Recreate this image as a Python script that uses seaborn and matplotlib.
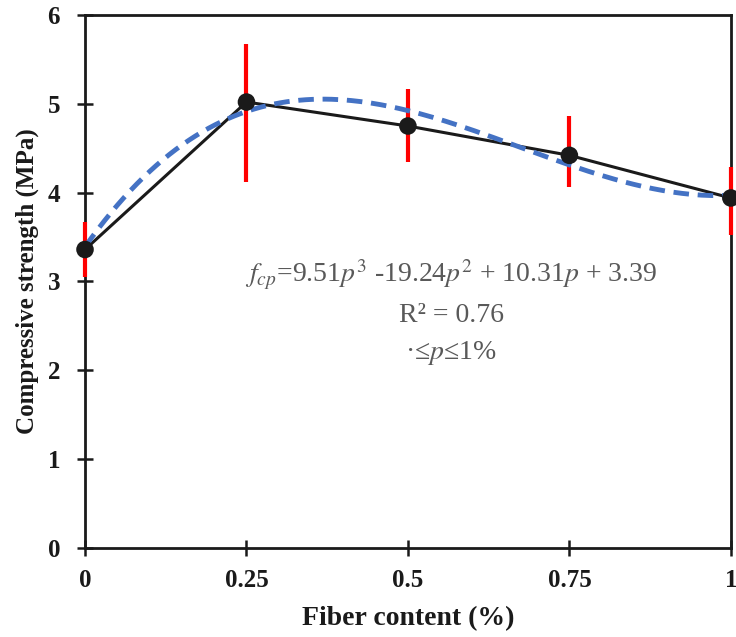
import numpy as np
import pandas as pd
import matplotlib
matplotlib.use("Agg")
import matplotlib.pyplot as plt
import seaborn as sns

# ---- data ----
fiber = [0, 0.25, 0.5, 0.75, 1.0]
strength = [3.36, 5.02, 4.75, 4.42, 3.94]
err_low = [0.31, 0.90, 0.40, 0.36, 0.42]
err_high = [0.31, 0.65, 0.42, 0.44, 0.35]
poly_coef = [9.51, -19.24, 10.31, 3.39]  # fitted trendline from the chart's equation
x_ticks = [0, 0.25, 0.5, 0.75, 1]
x_tick_labels = ["0", "0.25", "0.5", "0.75", "1"]
y_ticks = [0, 1, 2, 3, 4, 5, 6]

sns.set_theme(style="white")
plt.rcParams["font.family"] = ["Liberation Serif", "DejaVu Serif"]
plt.rcParams["mathtext.fontset"] = "stix"

fig = plt.figure(figsize=(7.36, 6.37), dpi=100)
ax = fig.add_axes([0.1155, 0.1397, 0.8775, 0.8368])

df = pd.DataFrame({"fiber": fiber, "strength": strength})
p = np.linspace(0, 1, 200)
trend = pd.DataFrame({"p": p, "fit": np.polyval(poly_coef, p)})

sns.lineplot(data=df, x="fiber", y="strength", ax=ax, color="#1a1a1a",
             linewidth=2.2, zorder=2, clip_on=False)
ax.errorbar(fiber, strength, yerr=[err_low, err_high], fmt="none",
            ecolor="#ff0000", elinewidth=3.0, capsize=0, zorder=3, clip_on=False)
sns.lineplot(data=trend, x="p", y="fit", ax=ax, color="#4472C4",
             linewidth=3.5, zorder=4, clip_on=False)
ax.lines[-1].set_dashes([3.2, 1.8])
sns.scatterplot(data=df, x="fiber", y="strength", ax=ax, color="#1a1a1a",
                s=160, edgecolor="none", zorder=5, clip_on=False)

ax.set_xlim(0, 1)
ax.set_ylim(0, 6)
ax.set_xticks(x_ticks)
ax.set_xticklabels(x_tick_labels)
ax.set_yticks(y_ticks)

for s in ax.spines.values():
    s.set_color("#1a1a1a")
    s.set_linewidth(2.0)
ax.tick_params(axis="both", which="major", direction="inout", length=12,
               width=1.8, color="#1a1a1a", labelsize=18, labelcolor="#1a1a1a",
               bottom=True, left=True, top=False, right=False)
ax.tick_params(axis="x", pad=9)
ax.tick_params(axis="y", pad=12)
for lbl in ax.get_xticklabels() + ax.get_yticklabels():
    lbl.set_fontweight("bold")

ax.set_xlabel("Fiber content (%)", fontsize=20, fontweight="bold", color="#1a1a1a", labelpad=10)
ax.set_ylabel("Compressive strength (MPa)", fontsize=18, fontweight="bold", color="#1a1a1a", labelpad=6)

gray = "#595959"
ax.text(0.567, 3.07, r"$f_{cp}$=9.51$p^3$ -19.24$p^2$ + 10.31$p$ + 3.39",
        ha="center", va="center", fontsize=20, color=gray)
ax.text(0.567, 2.62, "R² = 0.76", ha="center", va="center", fontsize=20, color=gray)
ax.text(0.567, 2.2, r"·≤$p$≤1%", ha="center", va="center", fontsize=20, color=gray)

fig.savefig("out.png", dpi=100)
